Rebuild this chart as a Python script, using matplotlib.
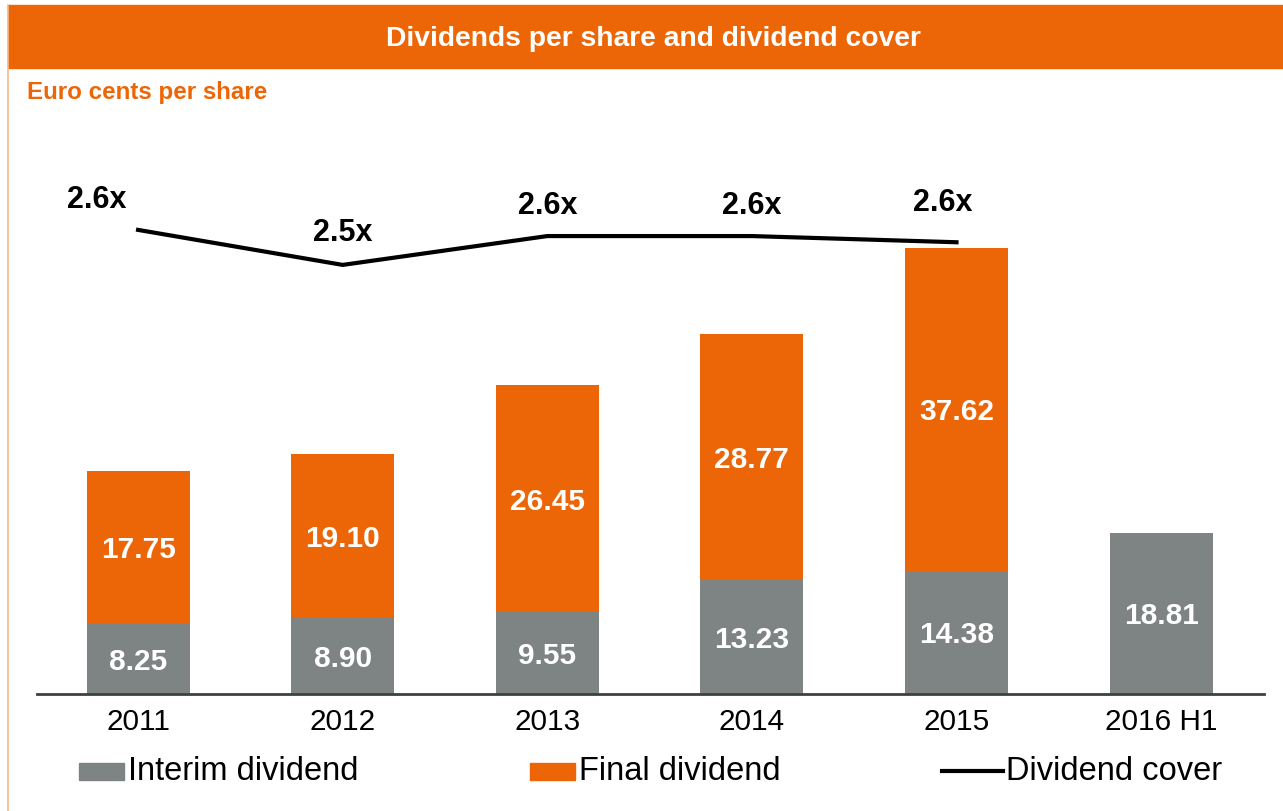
import numpy as np
import matplotlib.pyplot as plt
from matplotlib.patches import Rectangle
from matplotlib.lines import Line2D

plt.rcParams['font.family'] = ['Liberation Sans', 'DejaVu Sans']

years = ['2011', '2012', '2013', '2014', '2015', '2016 H1']
interim = [8.25, 8.90, 9.55, 13.23, 14.38, 18.81]
final = [17.75, 19.10, 26.45, 28.77, 37.62, 0]
cover = [2.63, 2.46, 2.60, 2.60, 2.57]
cover_labels = ['2.6x', '2.5x', '2.6x', '2.6x', '2.6x']

orange = '#EC6608'
grey = '#7E8383'
W, H = 1283, 811


def px(x, y):
    # pixel (from top-left) -> figure fraction
    return x / W, 1 - y / H


fig = plt.figure(figsize=(W / 100, H / 100), dpi=100)

# header band and left border
fig.patches.append(Rectangle(px(8, 68), (W - 8) / W, 63 / H, transform=fig.transFigure,
                             color=orange, zorder=0))
fig.lines.append(Line2D([8 / W, 8 / W], [0, 1 - 5 / H], transform=fig.transFigure,
                        color='#F6B98C', lw=1.2))
fig.text(*px(653, 39), 'Dividends per share and dividend cover', color='white',
         fontsize=20.3, fontweight='bold', ha='center', va='center')
fig.text(*px(27, 93), 'Euro cents per share', color=orange,
         fontsize=17.4, fontweight='bold', ha='left', va='center')

ax = fig.add_axes([37 / W, 117 / H, 1227 / W, 584 / H])
x = np.arange(len(years))
width = 0.503
ax.bar(x, interim, width, color=grey, zorder=2)
ax.bar(x, final, width, bottom=interim, color=orange, zorder=2)

for i in range(len(years)):
    ax.text(x[i], interim[i] / 2, '%.2f' % interim[i], color='white', fontsize=21.5,
            fontweight='bold', ha='center', va='center_baseline')
    if final[i] > 0:
        ax.text(x[i], interim[i] + final[i] / 2, '%.2f' % final[i], color='white',
                fontsize=21.5, fontweight='bold', ha='center', va='center_baseline')

ax.set_xlim(-0.494, 5.503)
ax.set_ylim(0, 68.07)
ax.set_xticks(x)
ax.set_xticklabels(years, fontsize=21.4)
ax.tick_params(axis='x', length=0, pad=10)
ax.set_yticks([])
for s in ['top', 'right', 'left']:
    ax.spines[s].set_visible(False)
ax.spines['bottom'].set_color('#404040')
ax.spines['bottom'].set_linewidth(2)

ax2 = ax.twinx()
ax2.set_ylim(0.377, 3.212)
xc = x[:len(cover)]
ax2.plot(xc, cover, color='black', lw=3)
offsets = [(-41, 30), (0, 32), (0, 30), (0, 30), (-14, 39)]
for i in range(len(cover)):
    ax2.annotate(cover_labels[i], (xc[i], cover[i]),
                 xytext=(offsets[i][0] * 0.72, offsets[i][1] * 0.72),
                 textcoords='offset points', fontsize=22, fontweight='bold',
                 ha='center', va='center')
ax2.axis('off')

# legend
fig.patches.append(Rectangle(px(79, 780), 45 / W, 17 / H, transform=fig.transFigure,
                             color=grey))
fig.text(*px(128, 772), 'Interim dividend', fontsize=23.5, ha='left', va='center')
fig.patches.append(Rectangle(px(530, 780), 45 / W, 17 / H, transform=fig.transFigure,
                             color=orange))
fig.text(*px(579, 772), 'Final dividend', fontsize=23.5, ha='left', va='center')
fig.lines.append(Line2D([942 / W, 1003 / W], [1 - 771 / H] * 2, transform=fig.transFigure,
                        color='black', lw=3))
fig.text(*px(1006, 772), 'Dividend cover', fontsize=23.5, ha='left', va='center')

fig.savefig('out.png', dpi=100)
